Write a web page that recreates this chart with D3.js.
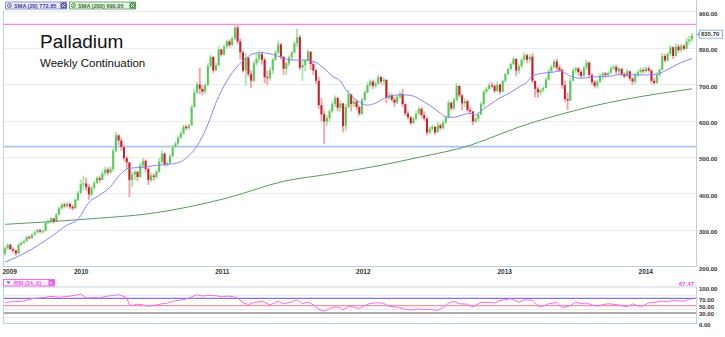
<!DOCTYPE html>
<html>
<head>
<meta charset="utf-8">
<script src="https://cdn.jsdelivr.net/npm/d3@7/dist/d3.min.js"></script>
<style>
  html, body { margin: 0; padding: 0; background: #ffffff; }
  svg { display: block; }
</style>
</head>
<body>
<svg id="chart" width="725" height="337"></svg>
<script>
// ---- Weekly palladium continuation, one entry per week ----
const firstWeek = "2009-06-19";
const firstOpen = 238;

const closes = [
  252,262,250,246,238,262,268,272,283,280,
  290,296,302,298,300,322,326,334,325,345,
  362,372,368,374,366,362,385,404,428,430,
  420,400,418,432,445,440,458,468,460,470,
  520,562,548,530,500,488,440,455,462,448,
  480,492,470,440,452,448,462,490,512,482,
  486,505,530,540,556,568,586,582,590,640,
  680,702,690,682,700,752,778,740,755,798,
  784,806,820,810,828,858,820,790,740,775,
  730,712,760,772,785,770,722,720,740,770,
  790,812,778,745,760,776,790,815,832,748,
  755,768,792,758,740,712,645,620,600,610,
  628,648,665,638,650,588,640,675,648,655,
  640,622,660,680,700,710,698,705,722,710,
  715,665,672,660,652,668,676,648,622,612,
  596,608,622,635,618,608,570,580,586,570,
  590,582,598,612,652,636,660,698,672,650,
  656,632,628,600,608,620,648,682,690,700,
  698,684,702,682,712,730,744,758,772,740,
  752,770,782,770,778,712,690,680,686,692,
  715,738,750,765,748,742,700,662,658,712,
  740,746,736,725,748,762,728,708,698,710,
  726,732,728,734,746,750,738,745,730,724,
  738,718,710,728,736,742,738,746,740,712,
  706,728,742,780,768,786,804,780,806,796,
  808,800,820,826,835.7
];

const highs = [
  258,266,264,255,248,266,272,277,286,288,
  293,300,306,306,304,325,332,338,336,350,
  368,376,378,378,378,372,390,410,440,452,
  445,428,424,438,450,452,466,476,474,478,
  526,572,565,556,535,505,470,462,468,466,
  488,500,496,474,460,458,468,500,522,515,
  492,510,536,546,562,575,592,592,594,646,
  690,708,748,700,705,760,784,776,762,808,
  800,812,824,826,834,866,866,828,795,788,
  778,740,768,790,795,792,775,740,750,775,
  796,822,815,780,765,782,795,820,856,838,
  770,772,798,792,765,745,722,665,630,618,
  634,656,672,668,660,640,648,688,672,662,
  660,645,665,686,710,716,715,712,728,725,
  722,715,680,678,668,674,682,690,650,628,
  615,614,630,642,640,628,612,586,592,584,
  600,596,604,618,660,655,666,706,700,675,
  664,660,640,627,615,625,654,688,696,706,
  708,702,710,702,716,735,748,762,778,774,
  758,776,790,786,784,788,712,696,692,698,
  722,744,756,770,772,756,745,712,680,720,
  748,752,750,742,754,769,764,732,714,716,
  732,736,736,738,752,756,756,750,746,736,
  744,740,722,734,742,750,748,752,752,744,
  720,736,748,788,786,792,810,806,815,812,
  814,812,830,836,843
];

const lows = [
  232,248,246,240,232,236,258,264,270,276,
  278,287,293,294,292,298,318,322,320,324,
  344,358,362,364,360,356,360,382,400,412,
  410,385,395,414,428,432,438,452,452,455,
  462,515,535,520,492,470,392,420,440,436,
  446,472,462,426,434,438,442,460,486,476,
  476,482,502,528,536,552,562,576,578,588,
  638,676,676,672,676,698,746,734,738,752,
  778,782,800,804,808,824,812,770,735,697,
  722,692,708,752,764,756,705,700,712,730,
  765,785,770,728,728,752,768,786,805,742,
  712,738,765,742,728,704,635,600,538,588,
  600,624,640,628,626,570,574,636,628,640,
  632,615,618,655,676,694,690,692,700,702,
  698,650,660,654,640,648,662,640,615,606,
  590,592,604,618,610,602,563,566,572,563,
  575,576,578,594,610,630,632,654,665,630,
  640,626,620,590,596,600,618,640,676,686,
  692,678,682,675,680,708,728,740,752,724,
  730,748,764,760,762,706,666,665,672,680,
  692,712,734,746,740,736,690,655,632,656,
  710,732,726,720,722,740,722,700,692,690,
  705,716,720,722,730,740,730,732,724,718,
  722,712,700,704,722,730,732,734,735,704,
  700,704,722,740,762,764,780,772,778,790,
  790,796,798,810,818
];

// Moving averages (week number -> value)
const sma20Weeks = [0,4,10,17,23,27,31,35,39,42,46,50,56,64,67,71,75,78,82,86,89,92,95,99,102,106,110,114,118,121,124,126,130,134,137,141,145,148,151,154,157,161,163,166,169,172,174,176,179,183,187,190,193,195,199,203,205,209,213,217,224,228,234,237,241,245,248,252,254];
const sma20Values = [214,227,250,284,316,332,378,398,421,450,472,474,480,487,500,533,592,652,711,753,773,787,789,784,777,769,769,765,746,725,711,688,659,645,651,667,673,673,670,658,645,623,612,612,618,623,618,630,645,665,680,695,708,726,733,736,739,725,719,722,725,730,728,728,730,743,755,768,772.85];

const sma200Weeks = [0,14,35,52,68,82,103,120,139,153,172,178,190,207,217,230,242,254];
const sma200Values = [318,324,335,346,366,390,436,456,480,502,535,551,585,623,642,662,677,690.05];

// RSI (14)
const rsiWeeks = [0,3,6,10,14,17,20,23,26,28,30,33,35,37,39,42,45,46,47,49,51,53,56,58,60,62,65,67,69,71,73,75,78,80,82,84,86,88,90,92,95,98,101,103,106,108,110,112,114,116,118,120,122,124,125,127,129,131,133,135,138,140,142,144,146,148,150,153,155,157,160,162,164,166,168,171,173,176,179,181,183,185,187,190,192,195,197,198,201,204,206,209,211,213,215,217,219,221,223,226,228,230,232,235,238,241,243,245,247,249,251,253,254];
const rsiValues = [57.5,62,61,69,72,75,73,75,78,82,71,72,71,75,77,80,72,53,50,54,52,48.5,52,55,57,62,65,68,74,80,76,78,77,74,76,75,71,58,53,58,62,52,62,55,60,66,55,60,52,40,35,42,47,44,38,48,46,42,50,56,58,56,48,47,44,40,38,41,39,40,37,45,57,62,55,54,46,59,59,57,64,66,69,59,66,65,50,46,55,59,44,50,59,56,57,52,48.5,53,55,53,50,47,55,47,57.5,60,62,61,64.5,63,62,68,67.47];

// Horizontal reference levels
const resistanceLevel = 867;
const supportLevel = 531;

// Axis ticks
const priceTicks = [200,300,400,500,600,700,800,900];
const rsiTicks = [0,30,50,70,100];
const rsiGrid = [20,40,80,100];
const yearLabels = ["2009","2010","2011","2012","2013","2014"];

// ---- Layout ----
const svg = d3.select("#chart");
const left = 3, right = 696;
const priceTop = 10, priceBottom = 267;
const rsiTop = 287, rsiBottom = 324;
const tickFont = "'Liberation Sans', Arial, sans-serif";

const startDate = d3.utcParse("%Y-%m-%d")(firstWeek);
const weekDate = i => d3.utcDay.offset(startDate, 7 * i);

const x = d3.scaleUtc()
  .domain([weekDate(0), weekDate(closes.length - 1)])
  .range([5, 692]);
const y = d3.scaleLinear().domain([200, 900]).range([267.3, 12.3]);
const yr = d3.scaleLinear().domain([0, 100]).range([rsiBottom, 287.3]);

const defs = svg.append("defs");
defs.append("clipPath").attr("id", "priceClip")
  .append("rect").attr("x", left).attr("y", 0).attr("width", right - left).attr("height", priceBottom);
defs.append("clipPath").attr("id", "rsiClip")
  .append("rect").attr("x", left).attr("y", rsiTop - 2).attr("width", right - left).attr("height", rsiBottom - rsiTop + 2);

// ---- Price panel gridlines ----
svg.append("g").selectAll("line").data(priceTicks).join("line")
  .attr("x1", left).attr("x2", right)
  .attr("y1", d => Math.round(y(d)) - 0.5).attr("y2", d => Math.round(y(d)) - 0.5)
  .attr("stroke", "#ececec").attr("stroke-width", 1);

// Reference levels
svg.append("line")
  .attr("x1", left).attr("x2", right)
  .attr("y1", y(resistanceLevel)).attr("y2", y(resistanceLevel))
  .attr("stroke", "#ff80f4").attr("stroke-width", 1.3);
svg.append("line")
  .attr("x1", left).attr("x2", right)
  .attr("y1", y(supportLevel)).attr("y2", y(supportLevel))
  .attr("stroke", "#a9c3f3").attr("stroke-width", 1.8);

// ---- Candles ----
const candles = closes.map((c, i) => {
  const o = i === 0 ? firstOpen : closes[i - 1];
  return { date: weekDate(i), o, c, h: Math.max(highs[i], o, c), l: Math.min(lows[i], o, c) };
});
const up = d => d.c >= d.o;

const cg = svg.append("g").attr("clip-path", "url(#priceClip)");
cg.selectAll("rect.wick").data(candles).join("rect")
  .attr("class", "wick")
  .attr("x", d => x(d.date) - 1).attr("width", 2)
  .attr("y", d => y(d.h)).attr("height", d => Math.max(1, y(d.l) - y(d.h)))
  .attr("fill", d => up(d) ? "#b3e6b3" : "#f1a9ae");
cg.selectAll("rect.body").data(candles).join("rect")
  .attr("class", "body")
  .attr("x", d => x(d.date) - 1).attr("width", 2)
  .attr("y", d => y(Math.max(d.o, d.c)))
  .attr("height", d => Math.max(1, Math.abs(y(d.o) - y(d.c))))
  .attr("fill", d => up(d) ? "#5cc95c" : "#c8202b");

// ---- Moving averages ----
const maLine = d3.line()
  .x(d => x(weekDate(d[0])))
  .y(d => y(d[1]))
  .curve(d3.curveMonotoneX);
cg.append("path")
  .attr("d", maLine(d3.zip(sma200Weeks, sma200Values)))
  .attr("fill", "none").attr("stroke", "#5c9a5c").attr("stroke-width", 1);
cg.append("path")
  .attr("d", maLine(d3.zip(sma20Weeks, sma20Values)))
  .attr("fill", "none").attr("stroke", "#8a84f6").attr("stroke-width", 1);

// ---- Panel borders ----
const borderColor = "#b9d1e6";
svg.append("line").attr("x1", left + 0.5).attr("x2", left + 0.5).attr("y1", priceTop).attr("y2", priceBottom)
  .attr("stroke", borderColor);
svg.append("line").attr("x1", right + 0.5).attr("x2", right + 0.5).attr("y1", 0).attr("y2", priceBottom)
  .attr("stroke", borderColor);
svg.append("line").attr("x1", left).attr("x2", right + 1).attr("y1", priceBottom - 0.5).attr("y2", priceBottom - 0.5)
  .attr("stroke", borderColor);

// ---- Price axis (right) ----
const yAxis = d3.axisRight(y).tickValues(priceTicks).tickFormat(d3.format(".2f")).tickSize(0).tickPadding(0);
const ya = svg.append("g").attr("transform", "translate(699,1)").call(yAxis);
ya.select(".domain").remove();
ya.selectAll("text").attr("font-family", tickFont).attr("font-size", 6).attr("font-weight", "bold").attr("fill", "#333");

// Last price marker
const lastClose = closes[closes.length - 1];
const ly = y(lastClose) - 1.5;
const marker = svg.append("g");
marker.append("path")
  .attr("d", `M${right + 0.5},${ly} L${right + 3.5},${ly - 3} L${right + 3.5},${ly + 3} Z`)
  .attr("fill", "#8db9dc");
marker.append("rect")
  .attr("x", right + 3.5).attr("y", ly - 4).attr("width", 23).attr("height", 8)
  .attr("fill", "#ffffff").attr("stroke", "#8db9dc").attr("stroke-width", 1);
marker.append("text")
  .attr("x", right + 5).attr("y", ly + 2.2)
  .attr("font-family", tickFont).attr("font-size", 6).attr("font-weight", "bold").attr("fill", "#333")
  .text(d3.format(".2f")(lastClose));

// ---- Time axis ----
const yearDates = yearLabels.map((yrLabel, i) => i === 0 ? weekDate(0) : new Date(Date.UTC(+yrLabel, 0, 1)));
const xAxis = d3.axisBottom(x).tickValues(yearDates).tickFormat(d3.utcFormat("%Y")).tickSize(0).tickPadding(0);
const xa = svg.append("g").attr("transform", `translate(0,${priceBottom + 1})`).call(xAxis);
xa.select(".domain").remove();
xa.selectAll("text")
  .attr("font-family", tickFont).attr("font-size", 6.5).attr("font-weight", "bold").attr("fill", "#333")
  .attr("dy", "0.9em");
xa.selectAll(".tick").filter((d, i) => i === 0).select("text").attr("text-anchor", "start").attr("x", -3);

// ---- Title ----
svg.append("text").attr("x", 40).attr("y", 48)
  .attr("font-family", "'Liberation Sans', Arial, sans-serif").attr("font-size", 19).attr("fill", "#111")
  .text("Palladium");
svg.append("text").attr("x", 40).attr("y", 67)
  .attr("font-family", "'Liberation Sans', Arial, sans-serif").attr("font-size", 11.5).attr("fill", "#111")
  .text("Weekly Continuation");

// ---- Legend chips ----
function chip(g, x0, y0, w, label, stroke, fill, textColor, iconColor) {
  g.append("rect").attr("x", x0 + 0.5).attr("y", y0 + 0.5).attr("width", w).attr("height", 7)
    .attr("fill", fill).attr("stroke", stroke).attr("stroke-width", 1);
  g.append("text").attr("x", x0 + 9).attr("y", y0 + 6.3)
    .attr("font-family", tickFont).attr("font-size", 5.6).attr("font-weight", "bold").attr("fill", textColor)
    .text(label);
  g.append("rect").attr("x", x0 + w - 5.5).attr("y", y0 + 1).attr("width", 6).attr("height", 6)
    .attr("fill", iconColor);
  g.append("path")
    .attr("d", `M${x0 + w - 4.3},${y0 + 2.2} L${x0 + w - 0.7},${y0 + 5.8} M${x0 + w - 0.7},${y0 + 2.2} L${x0 + w - 4.3},${y0 + 5.8}`)
    .attr("stroke", "#ffffff").attr("stroke-width", 1);
}
const legend = svg.append("g");
chip(legend, 5, 1.5, 61, `SMA (20) ${d3.format(".2f")(sma20Values[sma20Values.length - 1])}`,
  "#8f8fe6", "#eef0ff", "#3a3aa8", "#4b4bbf");
legend.append("circle").attr("cx", 9.5).attr("cy", 5.5).attr("r", 2).attr("fill", "#ffffff").attr("stroke", "#5b5bc8").attr("stroke-width", 1);
legend.append("circle").attr("cx", 9.5).attr("cy", 5.5).attr("r", 0.8).attr("fill", "#5b5bc8");
chip(legend, 69, 1.5, 66, `SMA (200) ${d3.format(".2f")(sma200Values[sma200Values.length - 1])}`,
  "#70ad70", "#ecf7ec", "#2f6f2f", "#3f8f3f");
legend.append("circle").attr("cx", 73.5).attr("cy", 5.5).attr("r", 2).attr("fill", "#ffffff").attr("stroke", "#3f8f3f").attr("stroke-width", 1);
legend.append("circle").attr("cx", 73.5).attr("cy", 5.5).attr("r", 0.8).attr("fill", "#3f8f3f");

// ---- RSI panel ----
const rg = svg.append("g");
rg.selectAll("line.grid").data(rsiGrid).join("line")
  .attr("x1", left).attr("x2", right)
  .attr("y1", d => Math.round(yr(d)) + 0.5).attr("y2", d => Math.round(yr(d)) + 0.5)
  .attr("stroke", "#ebebeb");
rg.append("line").attr("x1", left).attr("x2", right).attr("y1", yr(70)).attr("y2", yr(70))
  .attr("stroke", "#8372f0").attr("stroke-width", 1.3);
rg.append("line").attr("x1", left).attr("x2", right).attr("y1", yr(50)).attr("y2", yr(50))
  .attr("stroke", "#ff939c").attr("stroke-width", 1.2);
rg.append("line").attr("x1", left).attr("x2", right).attr("y1", yr(30)).attr("y2", yr(30))
  .attr("stroke", "#5a5a5a").attr("stroke-width", 1.2);

const rsiLine = d3.line().x(d => x(weekDate(d[0]))).y(d => yr(d[1]));
rg.append("path").attr("clip-path", "url(#rsiClip)")
  .attr("d", rsiLine(d3.zip(rsiWeeks, rsiValues)))
  .attr("fill", "none").attr("stroke", "#f36cf0").attr("stroke-width", 1);

rg.append("line").attr("x1", left + 0.5).attr("x2", left + 0.5).attr("y1", rsiTop).attr("y2", rsiBottom).attr("stroke", borderColor);
rg.append("line").attr("x1", right + 0.5).attr("x2", right + 0.5).attr("y1", rsiTop).attr("y2", rsiBottom).attr("stroke", borderColor);
rg.append("line").attr("x1", left).attr("x2", right + 1).attr("y1", rsiBottom - 0.5).attr("y2", rsiBottom - 0.5).attr("stroke", borderColor);
rg.append("line").attr("x1", left).attr("x2", right + 1).attr("y1", rsiTop - 0.5).attr("y2", rsiTop - 0.5).attr("stroke", "#dde8f2");

const rAxis = d3.axisRight(yr).tickValues(rsiTicks).tickFormat(d3.format(".2f")).tickSize(0).tickPadding(0);
const ra = svg.append("g").attr("transform", "translate(699,1)").call(rAxis);
ra.select(".domain").remove();
ra.selectAll("text").attr("font-family", tickFont).attr("font-size", 6).attr("font-weight", "bold").attr("fill", "#333");

// RSI chip and last value
const rsiChip = svg.append("g");
rsiChip.append("rect").attr("x", 3.5).attr("y", 279.5).attr("width", 51).attr("height", 6.5)
  .attr("fill", "#fff0fe").attr("stroke", "#f36cf0");
rsiChip.append("path").attr("d", "M6.5,281.5 L10.5,281.5 L8.5,284 Z").attr("fill", "#4d6f94");
rsiChip.append("text").attr("x", 14).attr("y", 285)
  .attr("font-family", tickFont).attr("font-size", 5.6).attr("font-weight", "bold").attr("fill", "#e64fe3")
  .text("RSI (14, 0)");
rsiChip.append("rect").attr("x", 48.5).attr("y", 280).attr("width", 5.5).attr("height", 5.5).attr("fill", "#e64fe3");
rsiChip.append("path").attr("d", "M49.7,281.2 L52.8,284.3 M52.8,281.2 L49.7,284.3").attr("stroke", "#fff").attr("stroke-width", 0.9);

svg.append("text").attr("x", 694).attr("y", 285.5).attr("text-anchor", "end")
  .attr("font-family", tickFont).attr("font-size", 6).attr("font-weight", "bold").attr("fill", "#e64fe3")
  .text(d3.format(".2f")(rsiValues[rsiValues.length - 1]));
</script>
</body>
</html>
